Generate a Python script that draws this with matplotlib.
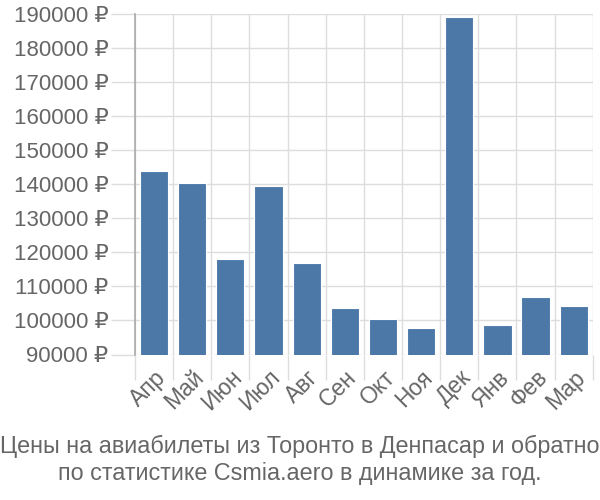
import numpy as np
import matplotlib
matplotlib.use("Agg")
import matplotlib.pyplot as plt
from matplotlib.ticker import FixedLocator, FuncFormatter

months = ["Апр", "Май", "Июн", "Июл", "Авг", "Сен", "Окт", "Ноя", "Дек", "Янв", "Фев", "Мар"]
prices = [144000, 140500, 118100, 139500, 116900, 103700, 100500, 97800, 189200, 98800, 106800, 104200]
y_ticks = list(range(90000, 190001, 10000))
caption = ("Цены на авиабилеты из Торонто в Денпасар и обратно\n"
           "по статистике Csmia.aero в динамике за год.")

plt.rcParams['font.family'] = ['Liberation Sans', 'DejaVu Sans']
text_color = "#666666"
grid_color = "#dddddd"

fig = plt.figure(figsize=(6, 5), dpi=100)
ax = fig.add_axes([0.225, 0.291, 0.763, 0.681])

x = np.arange(len(months))
ax.bar(x, prices, width=0.74, color="#4c78a8", edgecolor="white", linewidth=0.8,
       zorder=3)

ax.set_xlim(-0.5, len(months) - 0.5)
ax.set_ylim(90000, 190000)

ax.set_yticks(y_ticks)
ax.yaxis.set_major_formatter(FuncFormatter(lambda v, p: f"{int(v)} ₽"))
ax.set_xticks(x)
ax.set_xticklabels(months, rotation=45, ha="right", rotation_mode="anchor")
ax.xaxis.set_minor_locator(FixedLocator(np.arange(-0.5, len(months), 1)))

ax.tick_params(axis="x", which="major", length=0, pad=8, labelsize=16.5, labelcolor=text_color)
ax.tick_params(axis="x", which="minor", length=18, width=1, color=grid_color)
ax.tick_params(axis="y", which="major", length=17, width=1, color=grid_color,
               labelsize=16, labelcolor=text_color, pad=2)

ax.grid(True, axis="y", which="major", color=grid_color, linewidth=1, zorder=0)
ax.grid(True, axis="x", which="minor", color=grid_color, linewidth=1, zorder=0)

for s in ["top", "right", "bottom"]:
    ax.spines[s].set_visible(False)
ax.spines["left"].set_color("#aaaaaa")
ax.spines["left"].set_linewidth(1.2)

fig.text(0.5, 0.08, caption, ha="center", va="center", fontsize=16.8,
         color=text_color, linespacing=1.22)

fig.savefig("out.png", dpi=100)
